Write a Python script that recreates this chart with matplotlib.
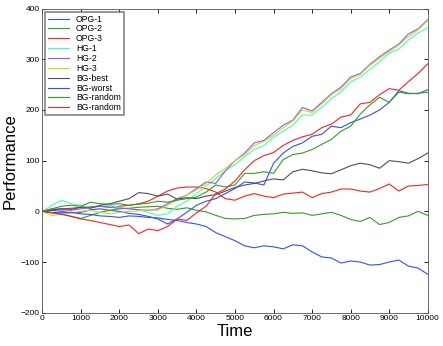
import matplotlib
matplotlib.use("Agg")
import matplotlib.pyplot as plt
import numpy as np

plt.rcParams['font.family'] = ['Liberation Sans', 'DejaVu Sans']

time = list(range(0, 10001, 250))

labels = ['OPG-1', 'OPG-2', 'OPG-3', 'HG-1', 'HG-2', 'HG-3',
          'BG-best', 'BG-worst', 'BG-random', 'BG-random']

opg1 = [0, 2, 0, -3, -2, 3, 5, 2, 0, -4, -6, -10, -15, -25, -15, -2, 12, 20, 25, 35, 45,
        58, 56, 52, 95, 115, 128, 135, 148, 152, 168, 165, 175, 182, 190, 200, 215, 238, 233, 232, 240]
opg2 = [0, -3, -5, -10, -14, -8, -2, 2, 5, 6, 8, 9, 10, 6, 4, 7, 2, -1, -8, -14, -15,
        -14, -8, -6, -5, -2, -4, -3, -8, -5, -2, -8, -16, -20, -12, -26, -22, -12, -9, 0, -8]
opg3 = [0, 3, 5, 6, 8, 9, 10, 8, 10, 12, 15, 20, 30, 40, 46, 48, 48, 45, 38, 25, 22,
        30, 35, 30, 27, 34, 36, 38, 27, 35, 38, 44, 44, 40, 38, 45, 54, 40, 50, 51, 53]
hg1 = [0, 12, 22, 15, 12, 8, 10, 12, 8, 5, 3, -2, -8, -5, 10, 20, 35, 50, 65, 80, 92,
       108, 122, 130, 146, 158, 170, 190, 190, 205, 222, 236, 255, 265, 280, 295, 312, 320, 338, 352, 362]
hg2 = [0, 5, 3, 2, 5, 8, 10, 8, 6, 5, 3, 2, 5, 15, 25, 32, 45, 58, 55, 80, 100,
       115, 135, 140, 155, 170, 180, 205, 198, 215, 232, 245, 265, 272, 290, 305, 318, 330, 350, 360, 378]
hg3 = [0, -8, -6, -3, 0, 2, -2, -5, -2, 0, 1, 3, 2, 12, 22, 32, 42, 55, 72, 85, 100,
       112, 130, 138, 150, 165, 178, 200, 195, 212, 230, 242, 262, 270, 288, 302, 315, 328, 345, 358, 376]
bg_best = [0, 3, 5, 4, 8, 6, 12, 15, 20, 25, 37, 35, 30, 34, 24, 27, 25, 30, 33, 40, 47,
           52, 55, 60, 64, 62, 78, 83, 80, 76, 74, 82, 90, 95, 92, 85, 100, 98, 95, 104, 115]
bg_worst = [0, -2, -3, -2, -5, -6, -9, -10, -12, -9, -10, -12, -13, -16, -18, -22, -25, -30, -42, -50, -58,
            -68, -72, -68, -70, -74, -66, -68, -80, -90, -92, -102, -98, -100, -106, -105, -100, -96, -108, -112, -124]
bg_rand1 = [0, 5, 10, 12, 10, 18, 15, 14, 15, 12, 14, 16, 20, 18, 22, 25, 28, 38, 52, 48, 52,
            75, 75, 78, 75, 102, 112, 115, 122, 132, 142, 158, 168, 192, 210, 225, 215, 235, 232, 233, 235]
bg_rand2 = [0, -3, -6, -10, -15, -18, -22, -26, -30, -27, -44, -35, -38, -30, -15, -18, -3, 10, 35, 44, 60,
            82, 100, 110, 116, 130, 140, 147, 152, 165, 172, 186, 190, 212, 215, 230, 242, 239, 256, 272, 291]

series = [opg1, opg2, opg3, hg1, hg2, hg3, bg_best, bg_worst, bg_rand1, bg_rand2]
colors = ['#3050ff', '#30a020', '#ff2020', '#40ffc0', '#a050ff', '#c0e010',
          '#505050', '#3050ff', '#30a020', '#ff2020']

fig = plt.figure(figsize=(4.43, 3.46), dpi=100)
ax = fig.add_axes([0.0955, 0.0962, 0.870, 0.879])

for vals, lab, c in zip(series, labels, colors):
    ax.plot(time, vals, color=c, lw=0.8, label=lab)

ax.set_xlim(0, 10000)
ax.set_ylim(-200, 400)
ax.set_xticks(range(0, 10001, 1000))
ax.set_yticks(range(-200, 401, 100))
ax.tick_params(direction='in', length=3, width=0.6, labelsize=6, top=True, right=True, pad=2)
for s in ax.spines.values():
    s.set_linewidth(0.6)
    s.set_color('#555555')
ax.set_xlabel('Time', fontsize=12, labelpad=1)
ax.set_ylabel('Performance', fontsize=12, labelpad=2)

leg = ax.legend(loc='upper left', fontsize=6.2, frameon=True, fancybox=False,
                handlelength=2.4, handletextpad=0.8, labelspacing=0.1,
                borderpad=0.35, borderaxespad=0.35)
leg.get_frame().set_edgecolor('#666666')
leg.get_frame().set_linewidth(1.2)

fig.savefig('out.png', dpi=100)
